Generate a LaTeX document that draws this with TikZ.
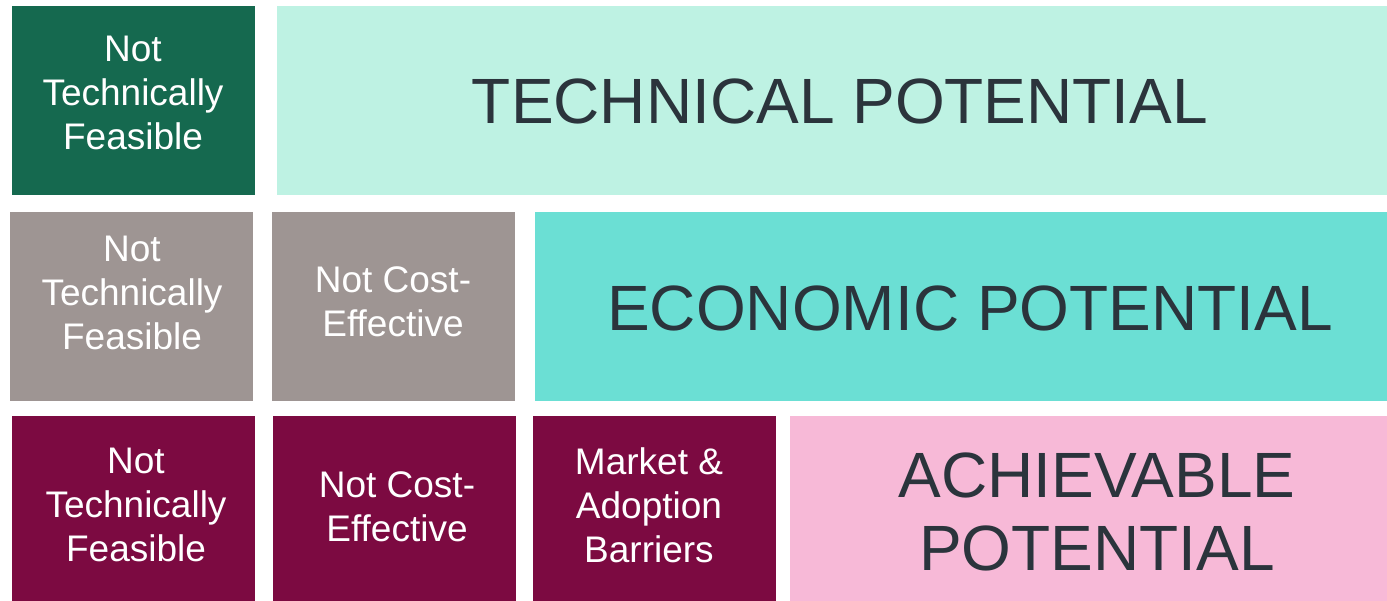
\documentclass[tikz,border=0pt]{standalone}
\usepackage{fontspec}
\setmainfont{Liberation Sans}
\definecolor{vertfonce}{HTML}{15694F}
\definecolor{menthe}{HTML}{BEF2E3}
\definecolor{gris}{HTML}{9E9593}
\definecolor{turquoise}{HTML}{6BDFD4}
\definecolor{bordeaux}{HTML}{7C0A41}
\definecolor{rose}{HTML}{F7B9D7}
\definecolor{ardoise}{HTML}{2B343C}

\begin{document}
\begin{tikzpicture}[x=1pt, y=-1pt]
\tikzset{bloc/.style={rectangle, draw=none, outer sep=0pt, inner sep=0pt, minimum width=243, minimum height=189},
  petit/.style={text=white, align=center, font=\fontsize{37}{44}\selectfont},
  grand/.style={text=ardoise, align=center, font=\fontsize{64}{73}\selectfont}}
\useasboundingbox (0,0) rectangle (1387,601);
\clip (0,0) rectangle (1387,601);
% ligne technique
\node[bloc, fill=vertfonce] (B11) at (133.5,101) {};
\node[bloc, fill=menthe, minimum width=1123] (B12) at (838.5,101) {};
\node[petit] (T11) at (133,93) {Not\\Technically\\Feasible};
\node[grand] (T12) at (840,101) {TECHNICAL POTENTIAL};
% ligne economique
\node[bloc, fill=gris] (B21) at (131.5,306.5) {};
\node[bloc, fill=gris] (B22) at (393.5,306.5) {};
\node[bloc, fill=turquoise, minimum width=865] (B23) at (967.5,306.5) {};
\node[petit] (T21) at (132,293) {Not\\Technically\\Feasible};
\node[petit] (T22) at (393,302) {Not Cost-\\Effective};
\node[grand] (T23) at (970,308) {ECONOMIC POTENTIAL};
% ligne atteignable
\node[bloc, fill=bordeaux] (B31) at (133.5,511) {};
\node[bloc, fill=bordeaux] (B32) at (394.5,511) {};
\node[bloc, fill=bordeaux] (B33) at (654.5,511) {};
\node[bloc, fill=rose, minimum width=610] (B34) at (1095,511) {};
\node[petit] (T31) at (136,505) {Not\\Technically\\Feasible};
\node[petit] (T32) at (397,507) {Not Cost-\\Effective};
\node[petit] (T33) at (649,505) {Market \&\\Adoption\\Barriers};
\node[grand] (T34) at (1097,512) {ACHIEVABLE\\POTENTIAL};
\end{tikzpicture}
\end{document}
